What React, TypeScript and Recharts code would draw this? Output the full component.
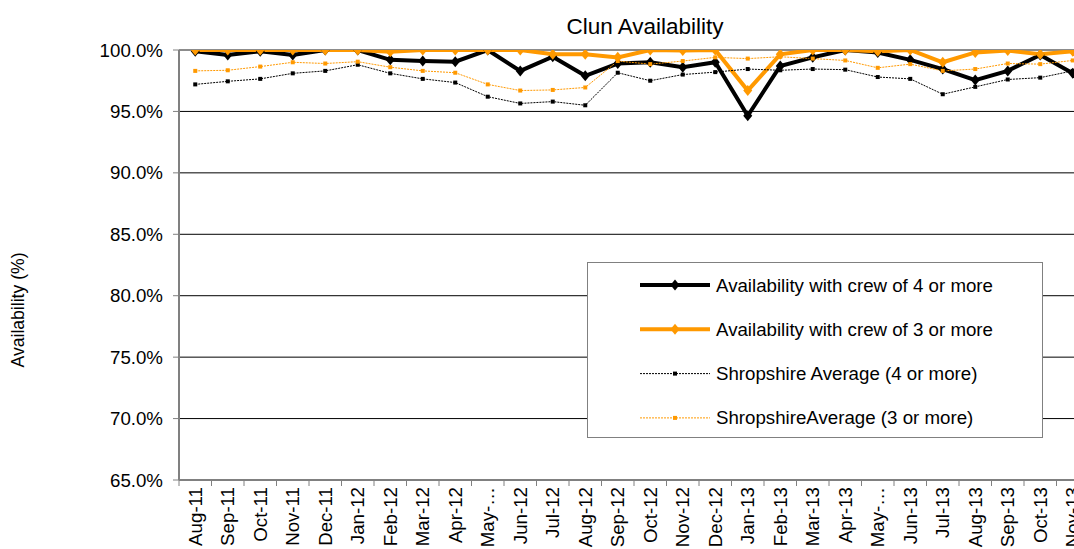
import {
  CartesianGrid,
  Legend,
  Line,
  LineChart,
  ReferenceLine,
  XAxis,
  YAxis,
} from "recharts";

const months = [
  "Aug-11", "Sep-11", "Oct-11", "Nov-11", "Dec-11", "Jan-12", "Feb-12",
  "Mar-12", "Apr-12", "May-…", "Jun-12", "Jul-12", "Aug-12", "Sep-12",
  "Oct-12", "Nov-12", "Dec-12", "Jan-13", "Feb-13", "Mar-13", "Apr-13",
  "May-…", "Jun-13", "Jul-13", "Aug-13", "Sep-13", "Oct-13", "Nov-13",
];

const crew4 = [
  99.9, 99.6, 99.9, 99.6, 100, 100, 99.2, 99.1, 99.05, 100, 98.3, 99.45,
  97.9, 98.9, 99.0, 98.6, 99.0, 94.65, 98.7, 99.4, 100, 99.8, 99.2, 98.45,
  97.55, 98.3, 99.6, 98.1,
];

const crew3 = [
  100, 100, 100, 100, 100, 100, 99.85, 100, 100, 100, 100, 99.65, 99.65,
  99.4, 100, 99.95, 100, 96.7, 99.65, 100, 100, 99.9, 100, 99.0, 99.8,
  99.95, 99.65, 99.9,
];

const shrop4 = [
  97.2, 97.45, 97.65, 98.1, 98.3, 98.8, 98.1, 97.65, 97.35, 96.2, 95.65,
  95.8, 95.5, 98.15, 97.5, 98.0, 98.2, 98.45, 98.35, 98.45, 98.4, 97.8,
  97.65, 96.4, 97.0, 97.6, 97.75, 98.3,
];

const shrop3 = [
  98.3, 98.35, 98.65, 99.0, 98.9, 99.05, 98.6, 98.3, 98.15, 97.2, 96.7,
  96.75, 96.95, 99.1, 98.85, 99.1, 99.4, 99.3, 99.45, 99.3, 99.15, 98.55,
  98.85, 98.3, 98.45, 98.9, 98.85, 99.15,
];

const yTicks = [65, 70, 75, 80, 85, 90, 95, 100];

const data = months.map((m, i) => ({
  month: m,
  crew4: crew4[i],
  crew3: crew3[i],
  shrop4: shrop4[i],
  shrop3: shrop3[i],
}));

const FONT = "Arial, 'Liberation Sans', sans-serif";
const ORANGE = "#FF9900";
const HALF_BAND = 16.25;

function Diamond({ cx, cy, fill }: { cx: number; cy: number; fill: string }) {
  if (cx == null || cy == null) return null;
  return (
    <polygon
      points={`${cx},${cy - 5.5} ${cx + 4.5},${cy} ${cx},${cy + 5.5} ${cx - 4.5},${cy}`}
      fill={fill}
    />
  );
}

function Square({ cx, cy, fill }: { cx: number; cy: number; fill: string }) {
  if (cx == null || cy == null) return null;
  return <rect x={cx - 2} y={cy - 2} width={4} height={4} fill={fill} />;
}

function MonthTick(props: any) {
  const { x, y, payload, index } = props;
  const last = index === months.length - 1;
  return (
    <g>
      <line x1={x - HALF_BAND} y1={y} x2={x - HALF_BAND} y2={y + 6} stroke="#808080" />
      {last && (
        <line x1={x + HALF_BAND} y1={y} x2={x + HALF_BAND} y2={y + 6} stroke="#808080" />
      )}
      <text
        x={x}
        y={y + 7}
        dy="0.36em"
        transform={`rotate(-90, ${x}, ${y + 7})`}
        textAnchor="end"
        fontSize={18.7}
        fontFamily={FONT}
        fill="#000"
      >
        {payload.value}
      </text>
    </g>
  );
}

const legendItems = [
  { label: "Availability with crew of 4 or more", color: "#000", thick: true },
  { label: "Availability with crew of 3 or more", color: ORANGE, thick: true },
  { label: "Shropshire Average (4 or more)", color: "#000", thick: false },
  { label: "ShropshireAverage (3 or more)", color: ORANGE, thick: false },
];

function ChartLegend() {
  return (
    <svg width={456} height={176} style={{ display: "block" }}>
      <rect x={0.5} y={0.5} width={455} height={175} fill="#fff" stroke="#808080" />
      {legendItems.map((it, i) => {
        const cy = 23 + i * 44.3;
        return (
          <g key={it.label}>
            <line
              x1={53}
              x2={123}
              y1={cy}
              y2={cy}
              stroke={it.color}
              strokeWidth={it.thick ? 4 : 1}
              strokeDasharray={it.thick ? undefined : "2 1"}
            />
            {it.thick ? (
              <Diamond cx={88} cy={cy} fill={it.color} />
            ) : (
              <Square cx={88} cy={cy} fill={it.color} />
            )}
            <text
              x={129}
              y={cy}
              dy="0.35em"
              fontSize={18.7}
              fontFamily={FONT}
              fill="#000"
            >
              {it.label}
            </text>
          </g>
        );
      })}
    </svg>
  );
}

export default function App() {
  return (
    <div
      style={{
        position: "fixed",
        left: 0,
        top: 0,
        width: 1074,
        height: 549,
        overflow: "hidden",
        background: "#fff",
      }}
    >
      <LineChart
        width={1100}
        height={570}
        data={data}
        margin={{ top: 50, right: 11, left: 0, bottom: 0 }}
      >
        <text
          x={645}
          y={34}
          textAnchor="middle"
          fontSize={22.5}
          fontFamily={FONT}
          fill="#000"
        >
          Clun Availability
        </text>
        <text
          x={18}
          y={310}
          dy="0.35em"
          transform="rotate(-90, 18, 310)"
          textAnchor="middle"
          fontSize={17.6}
          fontFamily={FONT}
          fill="#000"
        >
          Availability (%)
        </text>
        <CartesianGrid horizontal vertical={false} stroke="#000" strokeWidth={1} />
        <XAxis
          dataKey="month"
          interval={0}
          height={90}
          padding={{ left: HALF_BAND, right: HALF_BAND }}
          tickLine={false}
          tickSize={0}
          tickMargin={0}
          axisLine={{ stroke: "#808080", strokeWidth: 2 }}
          tick={<MonthTick />}
        />
        <YAxis
          width={179}
          domain={[65, 100]}
          ticks={yTicks}
          allowDataOverflow
          tickFormatter={(v) => `${v.toFixed(1)}%`}
          tickSize={6}
          tickMargin={10}
          axisLine={{ stroke: "#808080", strokeWidth: 2 }}
          tickLine={{ stroke: "#808080" }}
          tick={{ fill: "#000", fontSize: 18.7, fontFamily: FONT }}
        />
        <ReferenceLine y={100} stroke="#8c8c8c" strokeWidth={2} />
        <Line
          dataKey="crew4"
          stroke="#000"
          strokeWidth={4}
          isAnimationActive={false}
          dot={(p: any) => <Diamond key={`c4-${p.index}`} cx={p.cx} cy={p.cy} fill="#000" />}
          activeDot={false}
        />
        <Line
          dataKey="crew3"
          stroke={ORANGE}
          strokeWidth={4}
          isAnimationActive={false}
          dot={(p: any) => <Diamond key={`c3-${p.index}`} cx={p.cx} cy={p.cy} fill={ORANGE} />}
          activeDot={false}
        />
        <Line
          dataKey="shrop4"
          stroke="#000"
          strokeWidth={1}
          strokeDasharray="2 1"
          isAnimationActive={false}
          dot={(p: any) => <Square key={`s4-${p.index}`} cx={p.cx} cy={p.cy} fill="#000" />}
          activeDot={false}
        />
        <Line
          dataKey="shrop3"
          stroke={ORANGE}
          strokeWidth={1}
          strokeDasharray="2 1"
          isAnimationActive={false}
          dot={(p: any) => <Square key={`s3-${p.index}`} cx={p.cx} cy={p.cy} fill={ORANGE} />}
          activeDot={false}
        />
        <Legend
          layout="vertical"
          align="center"
          verticalAlign="middle"
          content={() => <ChartLegend />}
          wrapperStyle={{ left: 587, top: 262, width: 456, height: 176 }}
        />
      </LineChart>
    </div>
  );
}
